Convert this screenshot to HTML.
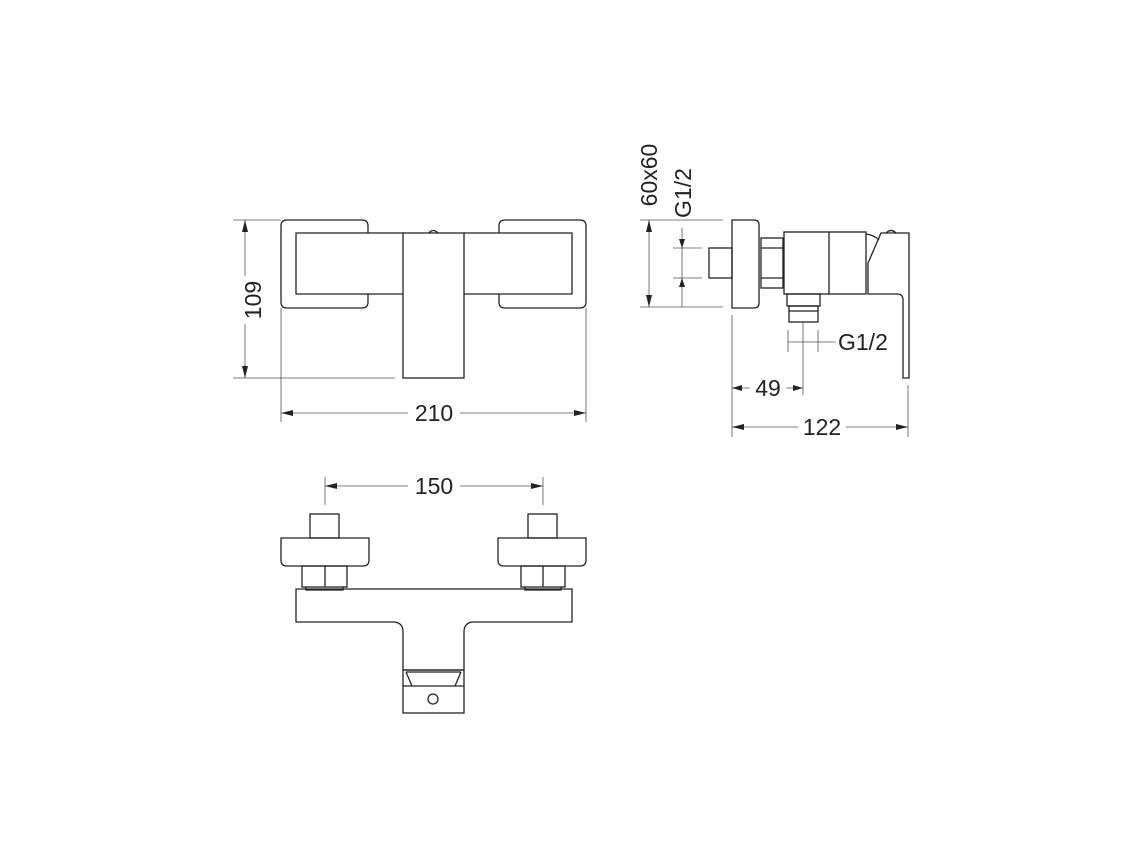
<!DOCTYPE html>
<html><head><meta charset="utf-8"><style>
html,body{margin:0;padding:0;background:#fff;}
svg{display:block}
text{font-family:"Liberation Sans",Arial,sans-serif;font-size:23px;fill:#222}
.s{fill:none;stroke:#222;stroke-width:1.3}
.d{fill:none;stroke:#555;stroke-width:0.8}
.a{fill:#222;stroke:none}
</style></head><body>
<svg width="1144" height="858" viewBox="0 0 1144 858">
<!-- FRONT VIEW -->
<path class="s" d="M368 233 V226 Q368 220 362 220 H287 Q281 220 281 226 V302 Q281 308 287 308 H362 Q368 308 368 302 V294"/>
<path class="s" d="M499 233 V226 Q499 220 505 220 H580 Q586 220 586 226 V302 Q586 308 580 308 H505 Q499 308 499 302 V294"/>
<path class="s" d="M403 233 H296 V294 H403 M464 233 H572 V294 H464"/>
<rect class="s" x="403" y="233" width="61" height="145"/>
<path class="s" d="M429 233 Q433 228 438 233"/>
<!-- 109 dim -->
<path class="d" d="M233 220 H281 M233 378 H395 M245 220 V378"/>
<path class="a" d="M245 220 l-3 12 h6z M245 378 l-3 -12 h6z"/>
<rect x="234" y="276" width="22" height="48" fill="#fff"/>
<text transform="translate(261 300) rotate(-90)" text-anchor="middle">109</text>
<!-- 210 dim -->
<path class="d" d="M281 308 V422 M586 308 V422 M281 413 H586"/>
<path class="a" d="M281 413 l12 -3 v6z M586 413 l-12 -3 v6z"/>
<rect x="408" y="400" width="52" height="24" fill="#fff"/>
<text x="434" y="421" text-anchor="middle">210</text>

<!-- SIDE VIEW -->
<path class="d" d="M640 220 H723 M640 307 H723 M649 220 V307 M673 248 H702 M673 278 H702 M682 228 V307"/>
<path class="a" d="M649 220 l-3 12 h6z M649 307 l-3 -12 h6z M682 248 l-3 -9 h6z M682 278 l-3 9 h6z"/>
<text transform="translate(657 175) rotate(-90)" text-anchor="middle">60x60</text>
<text transform="translate(691 193) rotate(-90)" text-anchor="middle">G1/2</text>
<rect class="s" x="709" y="248" width="23" height="30"/>
<path class="s" d="M732 220 H754 Q759 220 759 225 V303 Q759 308 754 308 H732 Z"/>
<rect class="s" x="761" y="238" width="22" height="50"/>
<path class="s" d="M761 248 H783 M761 278 H783"/>
<rect class="s" x="784" y="232" width="82" height="62"/>
<path class="s" d="M829 232 V294"/>
<path class="s" d="M866 234 Q874 235 879 240"/>
<path class="s" d="M881 233 H909 V378 H903 V300 Q903 294 897 294 H868 V263 L881 233 Z"/>
<path class="s" d="M886 233 Q891 228 896 233"/>
<rect class="s" x="787" y="294" width="33" height="12"/>
<rect class="s" x="789" y="306" width="29" height="16"/>
<path class="s" d="M789 311 H818"/>
<path class="d" d="M788 330 V352 M818 330 V352 M788 342 H836 M803 322 V395"/>
<text x="838" y="350">G1/2</text>
<path class="d" d="M732 315 V437 M908 385 V437 M732 388 H750 M786 388 H803 M732 427 H798 M846 427 H908"/>
<path class="a" d="M732 388 l10 -3 v6z M803 388 l-10 -3 v6z M732 427 l12 -3 v6z M908 427 l-12 -3 v6z"/>
<text x="768" y="396" text-anchor="middle">49</text>
<text x="822" y="435" text-anchor="middle">122</text>

<!-- TOP VIEW -->
<path class="d" d="M325 477 V505 M543 477 V505 M325 486 H408 M460 486 H543"/>
<path class="a" d="M325 486 l12 -3 v6z M543 486 l-12 -3 v6z"/>
<text x="434" y="494" text-anchor="middle">150</text>
<rect class="s" x="310" y="514" width="29" height="24"/>
<path class="s" d="M281 538 H369 V560 Q369 566 363 566 H287 Q281 566 281 560 Z"/>
<rect class="s" x="302" y="566" width="45" height="21"/>
<path class="s" d="M325 566 V587 M306 587 V590 H343 V587"/>
<rect class="s" x="528" y="514" width="29" height="24"/>
<path class="s" d="M498 538 H586 V560 Q586 566 580 566 H504 Q498 566 498 560 Z"/>
<rect class="s" x="521" y="566" width="44" height="21"/>
<path class="s" d="M543 566 V587 M525 587 V590 H561 V587"/>
<path class="s" d="M296 589 H572 V622 H474 Q464 622 464 632 V670 H403 V632 Q403 622 393 622 H296 Z"/>
<rect class="s" x="403" y="670" width="61" height="43"/>
<path class="s" d="M403 686 H464 M406 672 L412 686 M461 672 L455 686 M406 672 H461"/>
<circle class="s" cx="433" cy="699" r="5"/>
</svg>
</body></html>
